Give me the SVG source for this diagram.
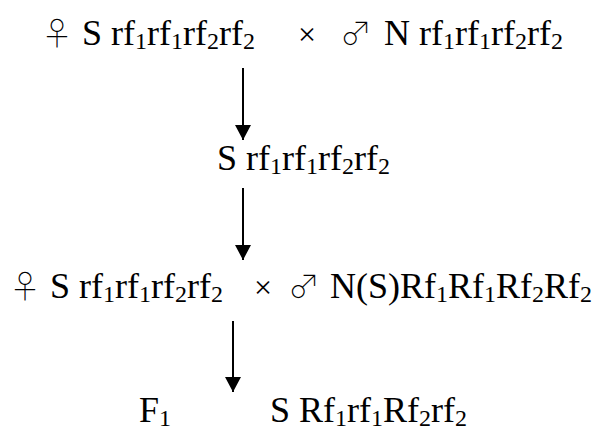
<svg xmlns="http://www.w3.org/2000/svg" width="601" height="432" viewBox="0 0 601 432">
<style>
.t{font-family:"Liberation Serif","Times New Roman",serif;font-size:36px;fill:#000}
.s{font-size:24px}
.g{font-family:"Noto Sans CJK JP","Noto Sans CJK SC","DejaVu Sans",sans-serif;font-weight:100;font-size:32px;fill:#000}
.x{font-family:"Liberation Serif",serif;font-size:32px;fill:#000}
.c{stroke:#000;stroke-width:2;fill:none}
</style>
<defs>
<marker id="ah" markerWidth="15" markerHeight="16" refX="15" refY="8" orient="auto" markerUnits="userSpaceOnUse" viewBox="0 0 15 16">
<path d="M0,0 L15,8 L0,16 Z" fill="#000"/>
</marker>
</defs>
<g id="cross1">
<text class="g" x="41" y="45">♀</text>
<text class="t" x="82" y="45">S rf<tspan class="s" dy="4">1</tspan><tspan dy="-4">rf</tspan><tspan class="s" dy="4">1</tspan><tspan dy="-4">rf</tspan><tspan class="s" dy="4">2</tspan><tspan dy="-4">rf</tspan><tspan class="s" dy="4">2</tspan></text>
<text class="x" x="298" y="45">×</text>
<text class="g" x="340" y="45">♂</text>
<text class="t" x="384" y="45">N rf<tspan class="s" dy="4">1</tspan><tspan dy="-4">rf</tspan><tspan class="s" dy="4">1</tspan><tspan dy="-4">rf</tspan><tspan class="s" dy="4">2</tspan><tspan dy="-4">rf</tspan><tspan class="s" dy="4">2</tspan></text>
</g>
<g id="line2">
<text class="t" x="217" y="170">S rf<tspan class="s" dy="4">1</tspan><tspan dy="-4">rf</tspan><tspan class="s" dy="4">1</tspan><tspan dy="-4">rf</tspan><tspan class="s" dy="4">2</tspan><tspan dy="-4">rf</tspan><tspan class="s" dy="4">2</tspan></text>
</g>
<g id="cross2">
<text class="g" x="9" y="298">♀</text>
<text class="t" x="50" y="298">S rf<tspan class="s" dy="4">1</tspan><tspan dy="-4">rf</tspan><tspan class="s" dy="4">1</tspan><tspan dy="-4">rf</tspan><tspan class="s" dy="4">2</tspan><tspan dy="-4">rf</tspan><tspan class="s" dy="4">2</tspan></text>
<text class="x" x="254" y="298">×</text>
<text class="g" x="288" y="298">♂</text>
<text class="t" x="330" y="298">N(S)Rf<tspan class="s" dy="4">1</tspan><tspan dy="-4">Rf</tspan><tspan class="s" dy="4">1</tspan><tspan dy="-4">Rf</tspan><tspan class="s" dy="4">2</tspan><tspan dy="-4">Rf</tspan><tspan class="s" dy="4">2</tspan></text>
</g>
<g id="f1">
<text class="t" x="139" y="422">F<tspan class="s" dy="4">1</tspan></text>
<text class="t" x="270" y="422">S Rf<tspan class="s" dy="4">1</tspan><tspan dy="-4">rf</tspan><tspan class="s" dy="4">1</tspan><tspan dy="-4">Rf</tspan><tspan class="s" dy="4">2</tspan><tspan dy="-4">rf</tspan><tspan class="s" dy="4">2</tspan></text>
</g>
<g id="connectors">
<line class="c" x1="243" y1="68" x2="243" y2="140" marker-end="url(#ah)"/>
<line class="c" x1="243" y1="188" x2="243" y2="260" marker-end="url(#ah)"/>
<line class="c" x1="233" y1="321" x2="233" y2="392" marker-end="url(#ah)"/>
</g>
</svg>
